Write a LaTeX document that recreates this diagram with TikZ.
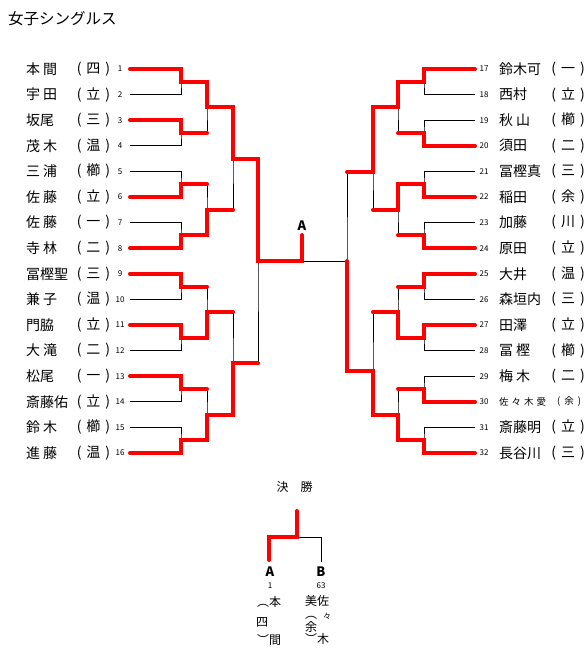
\documentclass[tikz,border=0pt]{standalone}
\usepackage{fontspec}
\setmainfont{Noto Sans CJK JP}

\newcommand{\nsp}{\kern3pt}
\newcommand{\aff}[1]{(\kern5pt#1\kern5pt)}

\begin{document}
\begin{tikzpicture}[x=1pt,y=-1pt,
  wire/.style={line width=1pt},
  winner/.style={red,line width=4pt,line cap=round},
  namelbl/.style={anchor=west,inner sep=0pt,font=\fontsize{14}{14}\selectfont},
  afflbl/.style={inner sep=0pt,font=\fontsize{14}{14}\selectfont},
  seedno/.style={inner sep=0pt,font=\fontsize{8}{8}\selectfont},
  kanji/.style={inner sep=0pt,font=\fontsize{12}{12}\selectfont},
  letter/.style={inner sep=0pt,font=\bfseries\fontsize{13}{13}\selectfont}]
\fill[white] (0,0) rectangle (586,653);
\useasboundingbox (0,0) rectangle (586,653);

\node[anchor=west,inner sep=0pt,font=\fontsize{15.5}{15.5}\selectfont] (title) at (8,19) {女子シングルス};

% bracket points
\foreach \i in {1,...,16} {
  \coordinate (l0-\i) at (130,{69+(\i-1)*25.6});
  \coordinate (r0-\i) at (475,{69+(\i-1)*25.6});
}
\foreach \k in {1,...,8} {
  \coordinate (l1-\k) at (181,{81.8+(\k-1)*51.2});
  \coordinate (r1-\k) at (424,{81.8+(\k-1)*51.2});
}
\foreach \k in {1,...,4} {
  \coordinate (l2-\k) at (207,{107.4+(\k-1)*102.4});
  \coordinate (r2-\k) at (398,{107.4+(\k-1)*102.4});
}
\coordinate (l3-1) at (233,158.6);
\coordinate (l3-2) at (233,363.4);
\coordinate (r3-1) at (373,172);
\coordinate (r3-2) at (373,371);
\coordinate (l4-1) at (258,261);
\coordinate (r4-1) at (347,261);
\coordinate (A) at (302,235);

% thin lines
\foreach \rd/\cnt in {1/8,2/4,3/2,4/1} {
  \pgfmathtruncatemacro{\pv}{\rd-1}
  \foreach \k in {1,...,\cnt} {
    \pgfmathtruncatemacro{\ta}{2*\k-1}
    \pgfmathtruncatemacro{\tb}{2*\k}
    \draw[wire] (l\pv-\ta) -| (l\rd-\k) |- (l\pv-\tb);
    \draw[wire] (r\pv-\ta) -| (r\rd-\k) |- (r\pv-\tb);
  }
}
\draw[wire] (r4-1) -- (r4-1 -| A);

% winners, left
\draw[winner] (l0-1) -| (l1-1) -| (l2-1) -| (l3-1) -| (l4-1) -| (A);
\draw[winner] (l0-3) -| (l1-2) -- (l1-2 -| l2-1);
\draw[winner] (l0-6) -| (l1-3) -- (l1-3 -| l2-2);
\draw[winner] (l0-8) -| (l1-4) -| (l2-2) -- (l2-2 -| l3-1);
\draw[winner] (l0-9) -| (l1-5) -- (l1-5 -| l2-3);
\draw[winner] (l0-11) -| (l1-6) -| (l2-3) -- (l2-3 -| l3-2);
\draw[winner] (l0-13) -| (l1-7) -- (l1-7 -| l2-4);
\draw[winner] (l0-16) -| (l1-8) -| (l2-4) -| (l3-2) -- (l3-2 -| l4-1);
% winners, right
\draw[winner] (r0-1) -| (r1-1) -| (r2-1) -| (r3-1) -- (r3-1 -| r4-1);
\draw[winner] (r0-4) -| (r1-2) -- (r1-2 -| r2-1);
\draw[winner] (r0-6) -| (r1-3) -| (r2-2) -- (r2-2 -| r3-1);
\draw[winner] (r0-8) -| (r1-4) -- (r1-4 -| r2-2);
\draw[winner] (r0-9) -| (r1-5) -- (r1-5 -| r2-3);
\draw[winner] (r0-11) -| (r1-6) -| (r2-3) -- (r2-3 -| r3-2);
\draw[winner] (r0-14) -| (r1-7) -- (r1-7 -| r2-4);
\draw[winner] (r0-16) -| (r1-8) -| (r2-4) -| (r3-2) -| (r4-1);

\node[letter] (champ) at (302,226) {A};

% players
\foreach \i/\nm/\af in {1/本\nsp 間/四,2/宇\nsp 田/立,3/坂尾/三,4/茂\nsp 木/温,
    5/三\nsp 浦/櫛,6/佐\nsp 藤/立,7/佐\nsp 藤/一,8/寺\nsp 林/二,
    9/冨樫聖/三,10/兼\nsp 子/温,11/門脇/立,12/大\nsp 滝/二,
    13/松尾/一,14/斎藤佑/立,15/鈴\nsp 木/櫛,16/進\nsp 藤/温} {
  \node[namelbl] (ln\i) at (26,{69+(\i-1)*25.6}) {\nm};
  \node[afflbl] (la\i) at (93.5,{69+(\i-1)*25.6}) {\aff{\af}};
  \node[seedno] (ls\i) at (120,{69+(\i-1)*25.6}) {\i};
}
\foreach \i/\nm/\af in {17/鈴木可/一,18/西村/立,19/秋\nsp 山/櫛,20/須田/二,
    21/冨樫真/三,22/稲田/余,23/加藤/川,24/原田/立,
    25/大井/温,26/森垣内/三,27/田澤/立,28/冨\nsp 樫/櫛,
    29/梅\nsp 木/二,31/斎藤明/立,32/長谷川/三} {
  \node[namelbl] (rn\i) at (499,{69+(\i-17)*25.6}) {\nm};
  \node[afflbl] (ra\i) at (568,{69+(\i-17)*25.6}) {\aff{\af}};
}
\node[namelbl,font=\fontsize{9.5}{9.5}\selectfont] (rn30) at (499,401.8)
  {佐\kern3pt 々\kern3pt 木\kern3pt 愛};
\node[afflbl,font=\fontsize{9.5}{9.5}\selectfont] (ra30) at (569,401.8)
  {(\kern4pt 余\kern4pt)};
\foreach \i in {17,...,32}
  \node[seedno] (rs\i) at (484,{69+(\i-17)*25.6}) {\i};

% final
\node[kanji] (final) at (294.5,487) {決　勝};
\coordinate (fin) at (297,511);
\coordinate (fj) at (297,537);
\coordinate (fa) at (269,560);
\coordinate (fb) at (321,562);
\draw[wire] (fb) |- (fj);
\draw[winner] (fa) |- (fj) -- (fin);
\node[letter] (fA) at (270,572) {A};
\node[letter] (fB) at (321,572) {B};
\node[seedno] (fAno) at (270,586) {1};
\node[seedno] (fBno) at (321,586) {63};
\node[kanji,anchor=west] (fa1) at (257,602) {︵本};
\node[kanji,anchor=west] (fa2) at (256,622) {四};
\node[kanji,anchor=west] (fa3) at (257,640) {︶間};
\node[kanji,anchor=west] (fb1) at (305,601) {美佐};
\node[kanji,anchor=west] (fb2) at (305,618) {︵};
\node[inner sep=0pt,font=\fontsize{8}{8}\selectfont] (fb3) at (327,616) {々};
\node[kanji,anchor=west] (fb4) at (305,627) {余};
\node[kanji,anchor=west] (fb5) at (305,639) {︶木};
\end{tikzpicture}
\end{document}
